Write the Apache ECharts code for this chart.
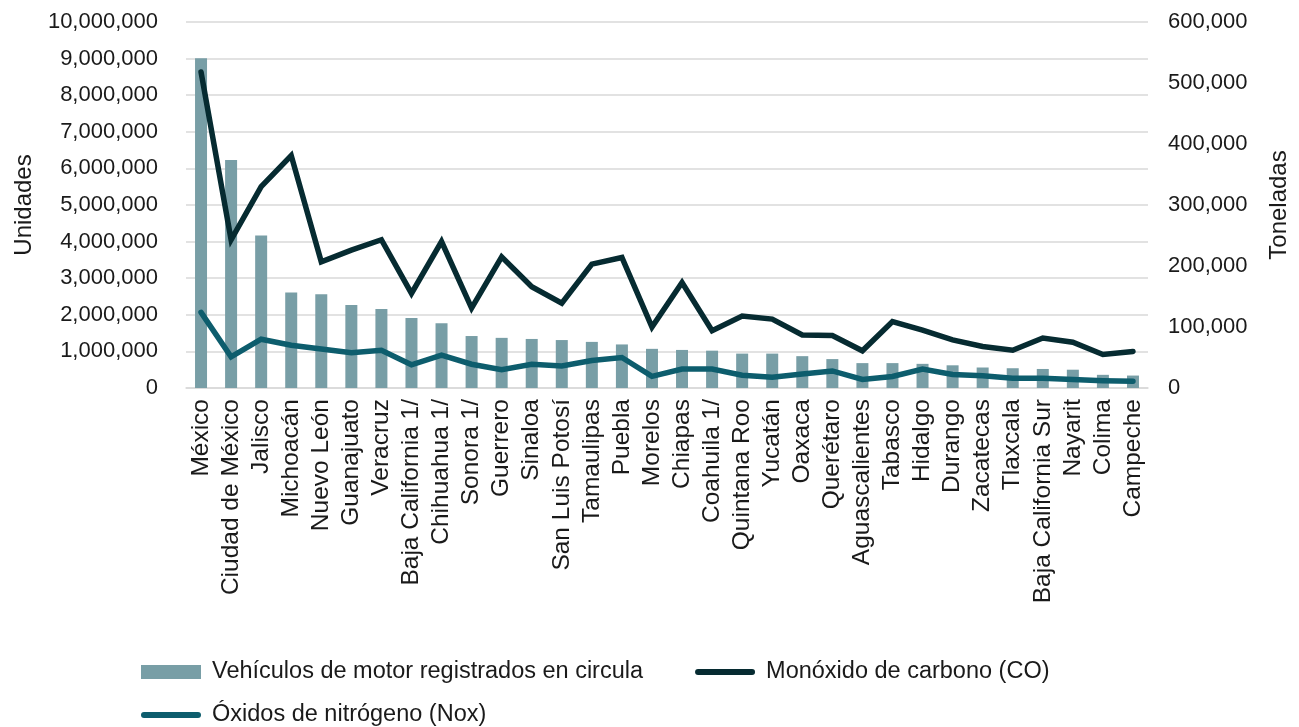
<!DOCTYPE html>
<html>
<head>
<meta charset="utf-8">
<script src="https://cdn.jsdelivr.net/npm/echarts@6/dist/echarts.min.js"></script>
<style>
html,body{margin:0;padding:0;background:#fff;}
#chart{width:1299px;height:727px;}
</style>
</head>
<body>
<div id="chart"></div>
<script>
var categories = ["México","Ciudad de México","Jalisco","Michoacán","Nuevo León","Guanajuato","Veracruz","Baja California 1/","Chihuahua 1/","Sonora 1/","Guerrero","Sinaloa","San Luis Potosí","Tamaulipas","Puebla","Morelos","Chiapas","Coahuila 1/","Quintana Roo","Yucatán","Oaxaca","Querétaro","Aguascalientes","Tabasco","Hidalgo","Durango","Zacatecas","Tlaxcala","Baja California Sur","Nayarit","Colima","Campeche"];
var vehiculos = [9010000,6230000,4170000,2610000,2560000,2270000,2160000,1910000,1770000,1420000,1370000,1340000,1310000,1260000,1190000,1070000,1040000,1020000,940000,940000,870000,790000,680000,680000,660000,620000,560000,540000,520000,500000,360000,340000];
var monoxido = [518000,243000,330000,381000,207000,226000,243000,155000,240000,131000,215000,166000,139000,203000,214000,100000,173000,94000,118000,113000,87000,86000,61000,109000,95000,79000,68000,62000,82000,75000,55000,60000];
var oxidos = [124000,51000,80000,70000,64000,58000,62000,38000,54000,39000,30000,39000,36000,45000,50000,19000,31000,31000,21000,17500,23000,28000,14000,19000,31000,22000,20000,16000,16000,14000,12000,11000];
var seriesNames = ["Vehículos de motor registrados en circula","Monóxido de carbono (CO)","Óxidos de nitrógeno (Nox)"];
var axisNames = ["Unidades","Toneladas"];

var FONT = "'Liberation Sans', Arial, sans-serif";
var fmt = function(v){ return Number(v).toLocaleString('en-US'); };
var pill = 'path://M3,0 H57 A3,3 0 0 1 57,6 H3 A3,3 0 0 1 3,0 Z';
var legendText = {fontFamily:FONT,fontSize:23.5,color:'#1a1a1a',padding:[0,0,0,6]};

var chart = echarts.init(document.getElementById('chart'), null, {renderer:'canvas'});
chart.setOption({
  animation:false,
  textStyle:{fontFamily:FONT},
  grid:{left:186,right:151,top:22,bottom:339,containLabel:false},
  legend:[
    {
      left:136, top:655, itemWidth:60, itemHeight:14, itemGap:52,
      textStyle:legendText,
      data:[{name:seriesNames[0],icon:'rect'},{name:seriesNames[1],icon:pill}]
    },
    {
      left:136, top:698, itemWidth:60, itemHeight:14, itemGap:52,
      textStyle:legendText,
      data:[{name:seriesNames[2],icon:pill}]
    }
  ],
  xAxis:{
    type:'category', data:categories,
    axisLine:{show:true,lineStyle:{color:'#d9d9d9',width:1.5}},
    axisTick:{show:false},
    axisLabel:{interval:0,rotate:90,fontSize:24.5,color:'#1a1a1a',margin:11,fontFamily:FONT}
  },
  yAxis:[
    {
      type:'value', min:0, max:10000000, interval:1000000,
      name:axisNames[0], nameLocation:'middle', nameRotate:90, nameGap:150,
      nameTextStyle:{fontSize:24,color:'#1a1a1a',fontFamily:FONT},
      axisLine:{show:false}, axisTick:{show:false},
      axisLabel:{formatter:fmt,fontSize:22,color:'#1a1a1a',margin:28,fontFamily:FONT},
      splitLine:{show:true,lineStyle:{color:'#d9d9d9',width:1.5}}
    },
    {
      type:'value', min:0, max:600000, interval:100000,
      name:axisNames[1], nameLocation:'middle', nameRotate:90, nameGap:119,
      nameTextStyle:{fontSize:24,color:'#1a1a1a',fontFamily:FONT},
      axisLine:{show:false}, axisTick:{show:false},
      axisLabel:{formatter:fmt,fontSize:22,color:'#1a1a1a',margin:20,fontFamily:FONT},
      splitLine:{show:false}
    }
  ],
  series:[
    {
      name:seriesNames[0], type:'bar', yAxisIndex:0, data:vehiculos,
      barWidth:12, itemStyle:{color:'#789ea6'}
    },
    {
      name:seriesNames[1], type:'line', yAxisIndex:1, data:monoxido,
      showSymbol:false, symbol:'none',
      lineStyle:{color:'#062b31',width:5.5,cap:'round',join:'miter'},
      itemStyle:{color:'#062b31'}
    },
    {
      name:seriesNames[2], type:'line', yAxisIndex:1, data:oxidos,
      showSymbol:false, symbol:'none',
      lineStyle:{color:'#0d5d6d',width:5.5,cap:'round',join:'miter'},
      itemStyle:{color:'#0d5d6d'}
    }
  ]
});
</script>
</body>
</html>
